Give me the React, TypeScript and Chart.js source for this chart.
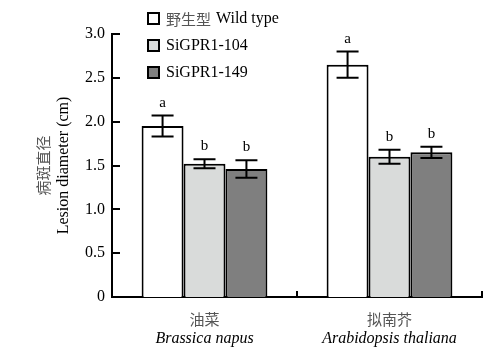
import React, { useEffect, useRef } from 'react';
import { Chart, registerables } from 'chart.js';
Chart.register(...registerables);

const categoriesZh = ['油菜', '拟南芥'];
const categoriesLatin = ['Brassica napus', 'Arabidopsis thaliana'];
const seriesNamesZh = ['野生型', '', ''];
const seriesNamesEn = ['Wild type', 'SiGPR1-104', 'SiGPR1-149'];
const wildType = [1.95, 2.65];
const gpr104 = [1.52, 1.6];
const gpr149 = [1.46, 1.65];
const wildErr = [0.12, 0.15];
const gpr104Err = [0.05, 0.08];
const gpr149Err = [0.1, 0.065];
const wildLetters = ['a', 'a'];
const gpr104Letters = ['b', 'b'];
const gpr149Letters = ['b', 'b'];
const yTicks = [0, 0.5, 1.0, 1.5, 2.0, 2.5, 3.0];
const yTitleZh = '病斑直径';
const yTitleEn = 'Lesion diameter (cm)';

const SERIF = '"Liberation Serif", "Times New Roman", serif';
const CJK = '"Noto Sans CJK SC", sans-serif';
const fills = ['#ffffff', '#d9dbda', '#7f7f7f'];
const errs = [wildErr, gpr104Err, gpr149Err];
const letters = [wildLetters, gpr104Letters, gpr149Letters];

const overlay = {
  id: 'overlay',
  afterDatasetsDraw(chart: any) {
    const ctx = chart.ctx;
    const ys = chart.scales.y;
    const xs = chart.scales.x;
    const area = chart.chartArea;
    ctx.save();
    // error bars and letters
    chart.data.datasets.forEach((ds: any, di: number) => {
      const meta = chart.getDatasetMeta(di);
      meta.data.forEach((bar: any, i: number) => {
        const v = ds.data[i];
        const e = errs[di][i];
        const yt = ys.getPixelForValue(v + e);
        const yb = ys.getPixelForValue(v - e);
        const x = bar.x;
        ctx.strokeStyle = '#000';
        ctx.lineWidth = 2;
        ctx.beginPath();
        ctx.moveTo(x, yt);
        ctx.lineTo(x, yb);
        ctx.moveTo(x - 11, yt);
        ctx.lineTo(x + 11, yt);
        ctx.moveTo(x - 11, yb);
        ctx.lineTo(x + 11, yb);
        ctx.stroke();
        ctx.fillStyle = '#000';
        ctx.font = `15px ${SERIF}`;
        ctx.textAlign = 'center';
        ctx.textBaseline = 'alphabetic';
        ctx.fillText(letters[di][i], x, yt - 9);
      });
    });
    // y inward ticks
    ctx.strokeStyle = '#000';
    ctx.lineWidth = 2;
    ctx.beginPath();
    yTicks.forEach((t) => {
      const py = Math.round(ys.getPixelForValue(t));
      ctx.moveTo(area.left, py);
      ctx.lineTo(area.left + 8, py);
    });
    // x upward ticks at category boundaries
    for (let i = 0; i < categoriesZh.length; i++) {
      const px = xs.getPixelForValue(i + 0.5);
      ctx.moveTo(px, area.bottom);
      ctx.lineTo(px, area.bottom - 6);
    }
    ctx.stroke();
    // x labels
    categoriesZh.forEach((c, i) => {
      const px = xs.getPixelForValue(i);
      ctx.textAlign = 'center';
      ctx.textBaseline = 'middle';
      ctx.fillStyle = '#555';
      ctx.font = `15px ${CJK}`;
      ctx.fillText(c, px, area.bottom + 22);
      ctx.fillStyle = '#000';
      ctx.font = `italic 16px ${SERIF}`;
      ctx.fillText(categoriesLatin[i], px, area.bottom + 42);
    });
    // y title
    ctx.save();
    ctx.translate(43, (area.top + area.bottom) / 2);
    ctx.rotate(-Math.PI / 2);
    ctx.textAlign = 'center';
    ctx.textBaseline = 'middle';
    ctx.fillStyle = '#555';
    ctx.font = `15px ${CJK}`;
    ctx.fillText(yTitleZh, 0, 0);
    ctx.fillStyle = '#000';
    ctx.font = `16px ${SERIF}`;
    ctx.fillText(yTitleEn, 0, 21);
    ctx.restore();
    // legend
    seriesNamesEn.forEach((name, i) => {
      const cy = 19 + i * 27;
      ctx.fillStyle = fills[i];
      ctx.fillRect(148, cy - 6, 11, 11);
      ctx.strokeStyle = '#000';
      ctx.lineWidth = 2;
      ctx.strokeRect(148, cy - 6, 11, 11);
      let tx = 166;
      ctx.textAlign = 'left';
      ctx.textBaseline = 'middle';
      if (seriesNamesZh[i]) {
        ctx.fillStyle = '#555';
        ctx.font = `15px ${CJK}`;
        ctx.fillText(seriesNamesZh[i], tx, cy);
        tx += ctx.measureText(seriesNamesZh[i]).width + 5;
      }
      ctx.fillStyle = '#000';
      ctx.font = `16px ${SERIF}`;
      ctx.fillText(name, tx, cy);
    });
    ctx.restore();
  },
};

export default function App() {
  const ref = useRef<HTMLCanvasElement>(null);
  useEffect(() => {
    document.body.style.margin = '0';
    const chart = new Chart(ref.current!, {
      type: 'bar',
      data: {
        labels: categoriesZh,
        datasets: [
          { label: seriesNamesEn[0], data: wildType, backgroundColor: fills[0], borderColor: '#000', borderWidth: 2 },
          { label: seriesNamesEn[1], data: gpr104, backgroundColor: fills[1], borderColor: '#000', borderWidth: 2 },
          { label: seriesNamesEn[2], data: gpr149, backgroundColor: fills[2], borderColor: '#000', borderWidth: 2 },
        ],
      },
      options: {
        responsive: false,
        animation: false,
        devicePixelRatio: 1,
        layout: { padding: { top: 34, right: 22, bottom: 60, left: 0 } },
        plugins: { legend: { display: false }, tooltip: { enabled: false } },
        datasets: { bar: { categoryPercentage: 0.68, barPercentage: 1 } },
        scales: {
          x: {
            grid: { display: false, drawTicks: false },
            border: { display: true, color: '#000', width: 2 },
            ticks: { display: false },
            afterFit: (s: any) => { s.height = 0; },
          },
          y: {
            min: 0,
            max: 3,
            grid: { display: false, drawTicks: false },
            border: { display: true, color: '#000', width: 2 },
            ticks: {
              stepSize: 0.5,
              padding: 7,
              color: '#000',
              font: { family: SERIF, size: 16 },
              callback: (v: any) => (v === 0 ? '0' : Number(v).toFixed(1)),
            },
            afterFit: (s: any) => { s.width = 112; },
          },
        },
      },
      plugins: [overlay],
    });
    return () => chart.destroy();
  }, []);
  return (
    <div style={{ width: 504, height: 357 }}>
      <canvas ref={ref} width={504} height={357} />
    </div>
  );
}
